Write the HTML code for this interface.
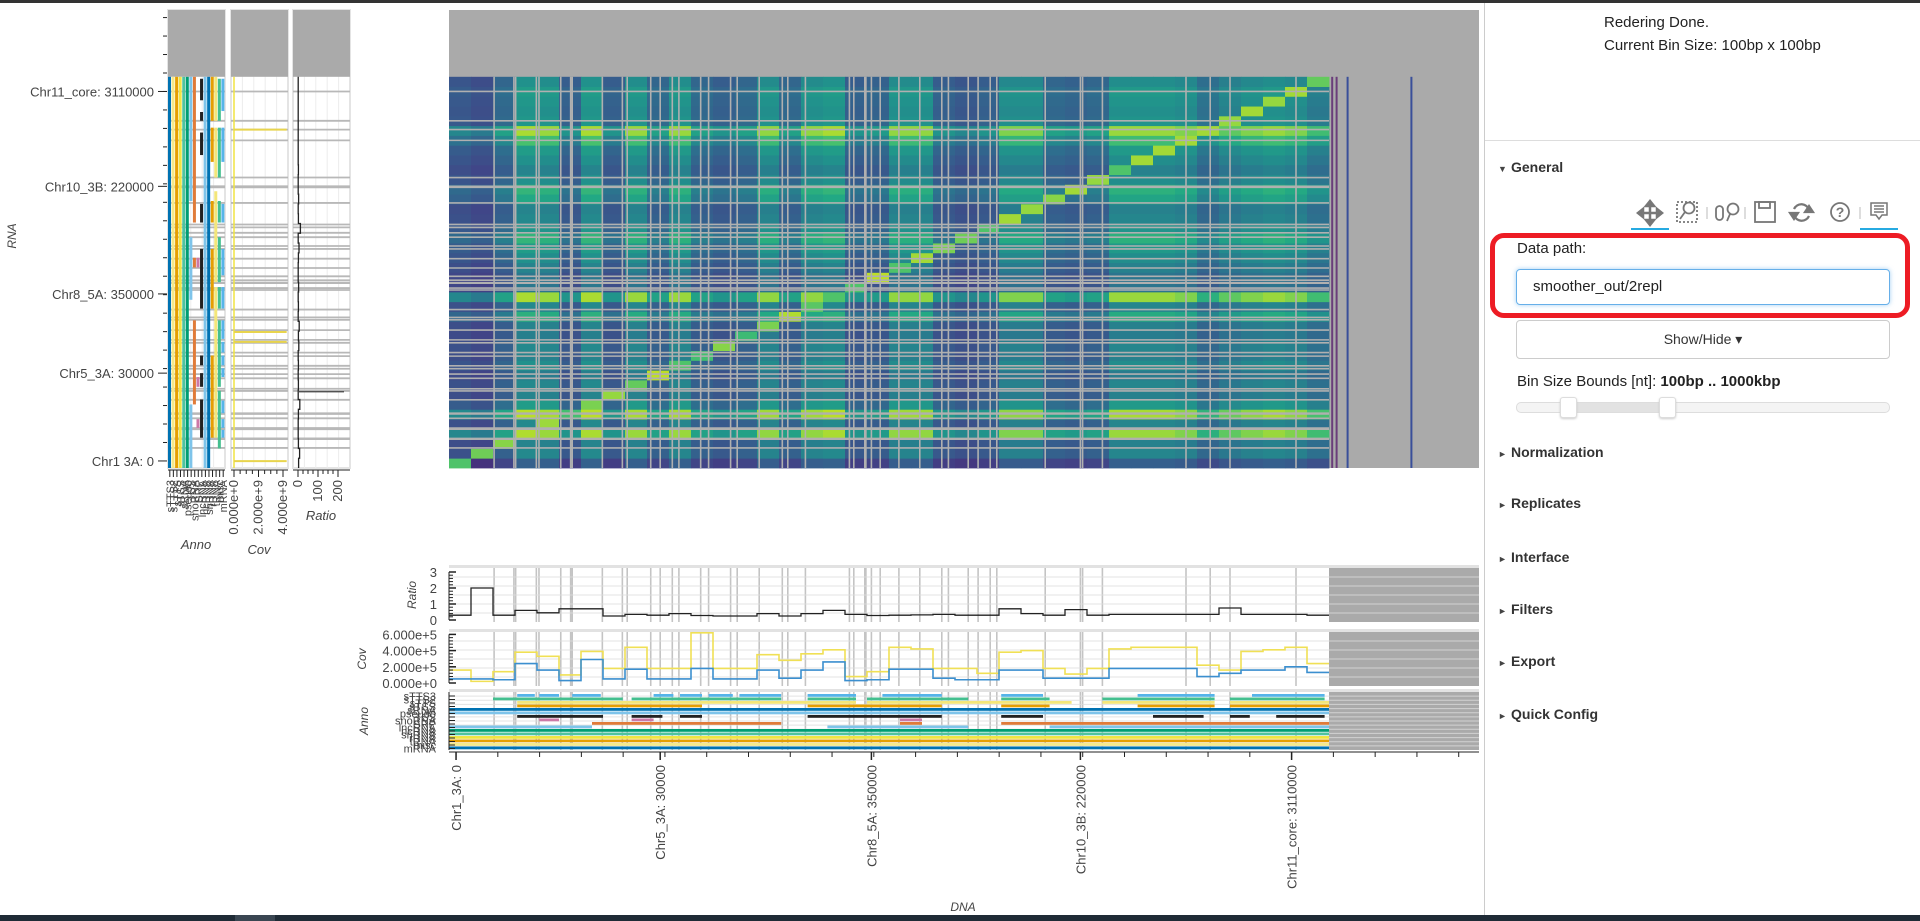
<!DOCTYPE html>
<html><head><meta charset="utf-8">
<style>
body{margin:0;width:1920px;height:921px;overflow:hidden;background:#fff;font-family:"Liberation Sans",sans-serif;position:relative}
#chart{position:absolute;left:0;top:0}
.rp{position:absolute;color:#222}
.sec{position:absolute;left:1498px;font-weight:bold;font-size:14px;color:#333}
.sec span{font-size:9px;display:inline-block;width:13px;color:#444}
</style></head><body>
<div style="position:absolute;left:0;top:0;width:1920px;height:3px;background:#333"></div>
<svg id="chart" width="1920" height="921"></svg>
<div style="position:absolute;left:0;top:915px;width:1920px;height:6px;background:#1f2b36"></div>
<div style="position:absolute;left:235px;top:915px;width:40px;height:6px;background:#3a4652"></div>

<div style="position:absolute;left:1484px;top:3px;width:436px;height:912px;border-left:1px solid #ccc;background:#fff"></div>
<div class="rp" style="left:1604px;top:11px;font-size:15px;line-height:23px">Redering Done.<br>Current Bin Size: 100bp x 100bp</div>
<div style="position:absolute;left:1485px;top:140px;width:435px;height:1px;background:#ddd"></div>
<div class="sec" style="top:159px"><span>▼</span>General</div>
<svg style="position:absolute;left:1620px;top:195px" width="290" height="40">
 <g stroke="#777" stroke-width="2.5" fill="#777"><line x1="30" y1="9" x2="30" y2="27"/><line x1="21" y1="18" x2="39" y2="18"/><polygon points="30,6 26,11 34,11"/><polygon points="30,30 26,25 34,25"/><polygon points="18,18 23,14 23,22"/><polygon points="42,18 37,14 37,22"/></g>
 <g fill="none" stroke="#777" stroke-width="1.8"><rect x="57" y="7" width="20" height="20" stroke-dasharray="2,2"/><circle cx="69" cy="13" r="5.5"/><line x1="65" y1="17" x2="60" y2="24"/></g>
 <line x1="87" y1="12" x2="87" y2="24" stroke="#bbb"/>
 <g fill="none" stroke="#777" stroke-width="1.8"><rect x="96" y="11" width="7" height="14" rx="3.5"/><circle cx="113" cy="14" r="5.5"/><line x1="110" y1="19" x2="107" y2="26"/></g>
 <line x1="125" y1="12" x2="125" y2="24" stroke="#bbb"/>
 <g fill="none" stroke="#777" stroke-width="1.8"><rect x="135" y="7" width="20" height="20"/><rect x="139" y="7" width="11" height="6"/></g>
 <g fill="none" stroke="#777" stroke-width="2.2"><path d="M174 14 A8 8 0 0 1 189 15"/><path d="M189 21 A8 8 0 0 1 174 20"/><polygon points="189,11 193,17 185,17" fill="#777"/><polygon points="174,24 170,18 178,18" fill="#777"/></g>
 <g><circle cx="220" cy="17" r="9" fill="none" stroke="#777" stroke-width="1.8"/><text x="220" y="22" font-size="14" font-weight="bold" text-anchor="middle" fill="#777">?</text></g>
 <line x1="240" y1="12" x2="240" y2="24" stroke="#bbb"/>
 <g fill="none" stroke="#777" stroke-width="1.5"><path d="M251 8 h16 v12 h-5 l-3 4 l-3 -4 h-5 z"/><line x1="254" y1="11" x2="264" y2="11"/><line x1="254" y1="14" x2="264" y2="14"/><line x1="254" y1="17" x2="264" y2="17"/></g>
 <rect x="11" y="33" width="38" height="2" fill="#26aae1"/><rect x="240" y="33" width="38" height="2" fill="#26aae1"/>
</svg>
<div style="position:absolute;left:1490px;top:233px;width:410px;height:75px;border:5px solid #ed1c24;border-radius:14px"></div>
<div class="rp" style="left:1517px;top:240px;font-size:15px">Data path:</div>
<div style="position:absolute;left:1516px;top:269px;width:356px;height:34px;border:1px solid #66afe9;border-radius:4px;box-shadow:0 0 5px rgba(102,175,233,.6);font-size:15px;line-height:34px;padding-left:16px;color:#222">smoother_out/2repl</div>
<div style="position:absolute;left:1516px;top:320px;width:372px;height:37px;border:1px solid #ccc;border-radius:4px;font-size:14px;line-height:37px;text-align:center;color:#333">Show/Hide ▾</div>
<div class="rp" style="left:1517px;top:373px;font-size:15px">Bin Size Bounds [nt]: <b>100bp .. 1000kbp</b></div>
<div style="position:absolute;left:1516px;top:402px;width:372px;height:9px;border:1px solid #ddd;border-radius:5px;background:#f4f4f4"></div>
<div style="position:absolute;left:1568px;top:403px;width:98px;height:9px;background:#e2e2e2"></div>
<div style="position:absolute;left:1560px;top:397px;width:15px;height:19px;border:1px solid #ddd;border-radius:3px;background:#fff;box-shadow:0 1px 2px #ccc"></div>
<div style="position:absolute;left:1659px;top:397px;width:15px;height:19px;border:1px solid #ddd;border-radius:3px;background:#fff;box-shadow:0 1px 2px #ccc"></div>
<div class="sec" style="top:444px"><span>►</span>Normalization</div>
<div class="sec" style="top:495px"><span>►</span>Replicates</div>
<div class="sec" style="top:549px"><span>►</span>Interface</div>
<div class="sec" style="top:601px"><span>►</span>Filters</div>
<div class="sec" style="top:653px"><span>►</span>Export</div>
<div class="sec" style="top:706px"><span>►</span>Quick Config</div>

<script>
// ---------------- data ----------------
const colBias = [0.55,0.5,0.65,0.9,0.88,0.6,0.9,0.6,0.88,0.65,0.88,0.65,0.6,0.65,0.87,0.65,0.87,0.9,0.6,0.62,0.87,0.87,0.6,0.55,0.6,0.85,0.85,0.65,0.62,0.65,0.88,0.88,0.88,0.85,0.7,0.8,0.85,0.88,0.85,0.75];
const rowBias = [0.45,0.62,0.6,1.0,0.62,1.02,0.7,0.6,0.62,0.58,0.65,0.6,0.62,0.58,0.6,0.78,0.62,1.0,0.55,0.55,0.6,0.65,0.7,0.8,0.68,0.62,0.6,0.75,0.8,0.65,0.6,0.65,0.7,0.85,1.0,0.68,0.66,0.68,0.7,0.65];
const diagVals = [0.72,0.78,0.82,0.88,0.85,0.7,0.8,0.84,0.76,0.9,0.72,0.7,0.82,0.68,0.8,0.88,0.74,0.72,0.72,0.9,0.72,0.86,0.8,0.78,0.72,0.86,0.84,0.82,0.86,0.84,0.72,0.86,0.86,0.86,0.86,0.84,0.86,0.84,0.86,0.76];
const filterPos = [2.05,2.95,3.03,3.97,4.09,5.08,5.53,5.6,6.97,7.88,8.1,9.17,9.6,10.15,10.45,11.44,11.8,12.8,13.1,14.1,15.15,15.4,16.2,18.2,18.4,18.9,18.95,19.2,19.6,20.45,21.4,22.4,22.7,23.6,24.05,24.6,24.9,27.1,28.7,28.8,29.7,33.5,34.6,35.5,38.5];
const extraCols = [40.1,40.3,40.8,43.7];
const ratioDna = [0.3,2.0,0.3,0.6,0.45,0.7,0.7,0.25,0.35,0.3,0.4,0.28,0.25,0.25,0.4,0.25,0.4,0.6,0.35,0.28,0.3,0.32,0.35,0.3,0.3,0.7,0.4,0.3,0.65,0.3,0.35,0.35,0.35,0.35,0.35,0.75,0.35,0.35,0.35,0.3];
const covYellow = [1.6,0.2,1.4,3.8,3.3,1.0,3.9,1.8,4.4,1.8,1.8,6.2,1.8,1.8,3.5,2.8,3.6,4.1,0.8,1.4,4.4,4.2,1.8,1.8,1.2,3.8,4.0,1.8,1.1,1.8,4.2,4.4,4.4,4.4,2.2,1.6,3.9,4.1,4.4,2.4];
const covBlue = [0.5,0.5,0.4,2.4,1.6,0.3,2.9,0.5,1.7,0.5,0.5,1.8,0.5,0.5,1.6,0.6,1.6,2.6,0.3,0.4,1.7,1.7,0.6,0.4,0.4,1.6,1.6,0.6,0.6,0.6,1.8,1.8,1.8,1.8,0.8,1.2,1.6,1.6,2.0,1.3];
const ratioRna = [3,8,2,1,1,2,9,1,2,1,2,1,4,2,6,1,2,1,3,1,1,2,5,1,12,2,1,3,1,1,2,1,1,1,1,1,1,1,1,1];
const ratioRnaSpike = [[7.8,230]];
const covRnaSpikes = [0.7,12.9,13.9,34.6];
const annoNames = ["mRNA","misc","tRNA","rRNA","snRNA","ncRNA","lncRNA","SRP","snoRNA","TSS","pseudo","sRNA","sTSS","sTTS","sTTS2","sTTS3"];
const annoColors = ["#56b4e9","#44bf8f","#f3e67a","#e69f00","#0072b2","#7ec4ea","#222222","#cc79a7","#e07b39","#7ec4ea","#009e73","#4fc3a0","#f0e442","#e69f00","#f5e98a","#0072b2"];
const annoSpans = [
 [[3.1,3.9],[4.1,5],[5.6,6.9],[9.3,10.2],[10.5,11.5],[11.8,12.9],[13.2,15.1],[16.3,18.5],[19.7,22.4],[25.1,27],[31.3,34.8],[36.5,39.8]],
 [[2,7.9],[8.3,15.1],[16.3,18.5],[19,23.6],[25.1,27.3],[29.7,34.8],[35.5,39.8]],
 [[3.1,18.5],[19,28.3],[29.7,34.8],[35.5,40]],
 [[3.1,11.5],[16.3,22.4],[25.1,27.3],[31.3,34.8],[35.5,40]],
 [[0,40]],[[0,40]],
 [[3.1,7],[8.3,9.7],[10.5,11.5],[16.3,22.4],[25.1,27],[32,34.3],[35.5,36.4],[37.6,39.8]],
 [[4.1,5],[8.3,9.3],[20.5,21.5]],
 [[6.5,15.1],[20.5,21.5],[25.1,40]],
 [[0,6.5],[17.2,23.6],[27.3,40]],
 [[0,40]],[[0,40]],[[0,40]],[[0,40]],[[0,40]],[[0,40]]
];
const xTickPos = [0.32,9.6,19.2,28.7,38.3];
const yTickPos = [0.72,9.7,17.8,28.8,38.5];
const tickLabels = ["Chr1_3A: 0","Chr5_3A: 30000","Chr8_5A: 350000","Chr10_3B: 220000","Chr11_core: 3110000"];
const yTickLabels = ["Chr1  3A: 0","Chr5_3A: 30000","Chr8_5A: 350000","Chr10_3B: 220000","Chr11_core: 3110000"];
const ratioTicks = [0,1,2,3];
const covTicks = [0,2,4,6];
const covTickLabels = ["0.000e+0","2.000e+5","4.000e+5","6.000e+5"];
const covRnaTicks = [0,2,4];
const covRnaTickLabels = ["0.000e+0","2.000e+9","4.000e+9"];
const ratioRnaTicks = [0,100,200];

// ---------------- helpers ----------------
const NS="http://www.w3.org/2000/svg";
const svg=document.getElementById('chart');
function mk(tag,attrs,parent){const e=document.createElementNS(NS,tag);for(const k in attrs)e.setAttribute(k,attrs[k]);(parent||svg).appendChild(e);return e;}
const N=40, X0=449, BW=22, Y0=468, BH=9.78, XMAX=1479, YMIN=10;
const DX=d=>X0+d*BW;
const DY=d=>Y0-d*BH;
const vir=["#440154","#482475","#414487","#355f8d","#2a788e","#21918c","#22a884","#44bf70","#7ad151","#bddf26","#fde725"];
function hx(c){return [1,3,5].map(i=>parseInt(c.substr(i,2),16));}
function viridis(t){t=Math.max(0,Math.min(1,t));const p=t*10,i=Math.min(9,Math.floor(p)),f=p-i;const a=hx(vir[i]),b=hx(vir[i+1]);return "rgb("+a.map((v,k)=>Math.round(v+(b[k]-v)*f)).join(",")+")";}

// ---------------- heatmap ----------------
const hm=mk('g',{});  
let r=mk('rect',{x:X0,y:YMIN,width:XMAX-X0,height:Y0-YMIN,fill:'#aaaaaa'},hm);
 
for(let j=0;j<N;j++){for(let b=0;b<N;b++){
  const v = (j===b)? diagVals[j] : Math.pow(colBias[j]*rowBias[b],1.3);
  const c=mk('rect',{x:DX(j),y:DY(b+1),width:BW+0.4,height:BH+0.4,fill:viridis(v)},hm);
  
  
}}
extraCols.forEach((p,k)=>{const l=mk('rect',{x:DX(p),y:DY(N),width:2,height:N*BH,fill:k<2?'#6a3d7a':'#3a4f9a'},hm);
  });
filterPos.forEach(p=>{
 const a=mk('line',{x1:DX(p),x2:DX(p),y1:DY(N),y2:Y0,stroke:'#b0b0b0','stroke-width':1.6},hm);
  
 const b=mk('line',{x1:X0,x2:DX(N),y1:DY(p),y2:DY(p),stroke:'#b0b0b0','stroke-width':1.6},hm);
  
});

// ---------------- left (RNA) panels ----------------
function leftPanel(x0,x1,name){
 const g=mk('g',{});  
 const bg=mk('rect',{x:x0,y:YMIN,width:x1-x0,height:Y0-YMIN,fill:'#fff',stroke:'#e4e4e4','stroke-width':2},g);
  
 for(let k=1;k<5;k++){const l=mk('line',{x1:x0+(x1-x0)*k/5,x2:x0+(x1-x0)*k/5,y1:YMIN,y2:Y0,stroke:'#ececec'},g);
   }
 const gr=mk('rect',{x:x0,y:YMIN,width:x1-x0,height:DY(N)-YMIN,fill:'#aaaaaa'},g);
  
 filterPos.forEach(p=>{const l=mk('line',{x1:x0,x2:x1,y1:DY(p),y2:DY(p),stroke:'#b8b8b8','stroke-width':1.8},g);
   });
 return g;
}
const la=leftPanel(168,225,'anno-rna-panel');
annoSpans.forEach((spans,k)=>{const col=15-k; const x=168+col*3.56;
 spans.forEach(s=>{const e=mk('rect',{x:x,y:DY(s[1]),width:3,height:(s[1]-s[0])*BH,fill:annoColors[k]},la);
   });});
const lc=leftPanel(231,288,'cov-rna-panel');
const cx=v=>234+v*12.25;
let ln=mk('line',{x1:cx(0),x2:cx(0),y1:DY(N),y2:Y0,stroke:'#f0e442','stroke-width':1.5},lc);
 
covRnaSpikes.forEach(p=>{const e=mk('line',{x1:cx(0),x2:cx(4.3),y1:DY(p),y2:DY(p),stroke:'#e8d44d','stroke-width':2},lc);
  });
const lr=leftPanel(293,350,'ratio-rna-panel');
const rx=v=>298+v*0.2;
let d='';for(let b=0;b<N;b++){d+=(b?'L':'M')+rx(ratioRna[b])+' '+DY(b)+' L'+rx(ratioRna[b])+' '+DY(b+1)+' ';}
ln=mk('path',{d:d,fill:'none',stroke:'#222','stroke-width':1.3},lr);
 
ratioRnaSpike.forEach(s=>{const e=mk('line',{x1:rx(0),x2:rx(s[1]),y1:DY(s[0]),y2:DY(s[0]),stroke:'#444','stroke-width':1.2},lr);
  });

// left bottom axes
function hAxis(x0,x1,ticks,labels,fn,name){
 const g=mk('g',{});  
 mk('line',{x1:x0,x2:x1,y1:470,y2:470,stroke:'#222'},g);
 ticks.forEach((t,i)=>{const x=fn(t);mk('line',{x1:x,x2:x,y1:470,y2:477,stroke:'#222'},g);
  const tx=mk('text',{x:0,y:0,transform:`translate(${x+4},480) rotate(-90)`,'text-anchor':'end','font-size':13,fill:'#444'},g);
  tx.textContent=labels[i];  
  if(i<ticks.length-1)for(let m=1;m<4;m++){const xm=x+(fn(ticks[i+1])-x)*m/4;mk('line',{x1:xm,x2:xm,y1:470,y2:474,stroke:'#222'},g);}
 });
}
hAxis(231,288,covRnaTicks,covRnaTickLabels,cx,'cov-rna-x-axis');
hAxis(293,350,ratioRnaTicks,ratioRnaTicks.map(String),rx,'ratio-rna-x-axis');
{const g=mk('g',{});
 mk('line',{x1:168,x2:225,y1:470,y2:470,stroke:'#222'},g);
 annoNames.forEach((n,k)=>{const x=169.8+(15-k)*3.56;mk('line',{x1:x,x2:x,y1:470,y2:477,stroke:'#222'},g);
  const t=mk('text',{transform:`translate(${x+4},480) rotate(-90)`,'text-anchor':'end','font-size':11,fill:'#444'},g);t.textContent=n;});}
[['Anno',196,549],['Cov',259,554],['Ratio',321,520]].forEach(a=>{const t=mk('text',{x:a[1],y:a[2],'text-anchor':'middle','font-size':13,'font-style':'italic',fill:'#444'});
 t.textContent=a[0];  });

// RNA y axis
{const g=mk('g',{});
 yTickPos.forEach((p,i)=>{mk('line',{x1:158,x2:167,y1:DY(p),y2:DY(p),stroke:'#222'},g);
  const t=mk('text',{x:154,y:DY(p)+5,'text-anchor':'end','font-size':13,fill:'#444'},g);t.textContent=yTickLabels[i];
  });
 const step=(yTickPos[4]-yTickPos[0])/20;
 for(let p=yTickPos[0]+step;DY(p)>=13;p+=step){mk('line',{x1:163,x2:167,y1:DY(p),y2:DY(p),stroke:'#222'},g);}
 const t=mk('text',{transform:'translate(16,236) rotate(-90)','text-anchor':'middle','font-size':12,'font-style':'italic',fill:'#444'},g);t.textContent='RNA';
}

// ---------------- bottom (DNA) panels ----------------
function botPanel(y0,y1,name){
 const g=mk('g',{});  
 mk('rect',{x:X0,y:y0-3,width:XMAX-X0,height:3,fill:'#e2e2e2'},g);
 const bg=mk('rect',{x:X0,y:y0,width:XMAX-X0,height:y1-y0,fill:'#fff'},g);
  
 const gr=mk('rect',{x:DX(N),y:y0,width:XMAX-DX(N),height:y1-y0,fill:'#aaaaaa'},g);
  
 filterPos.forEach(p=>{const l=mk('line',{x1:DX(p),x2:DX(p),y1:y0,y2:y1,stroke:'#c4c4c4','stroke-width':1.6},g);
   });
 return g;
}
function hgrid(g,y0,y1,n){for(let k=1;k<n;k++){const y=y0+(y1-y0)*k/n;mk('line',{x1:X0,x2:XMAX,y1:y,y2:y,stroke:'rgba(220,220,220,0.8)'},g);}}
function yAxis(g,vals,labels,fn,minor){mk('line',{x1:X0,x2:X0,y1:fn(vals[vals.length-1]),y2:fn(vals[0]),stroke:'#222'},g);
 vals.forEach((v,i)=>{mk('line',{x1:X0,x2:X0+7,y1:fn(v),y2:fn(v),stroke:'#222','stroke-width':1.5},g);
  const t=mk('text',{x:X0-12,y:fn(v)+5,'text-anchor':'end','font-size':13,fill:'#444'},g);t.textContent=labels[i];
  
  if(i<vals.length-1)for(let m=1;m<minor;m++){const y=fn(v)+(fn(vals[i+1])-fn(v))*m/minor;mk('line',{x1:X0,x2:X0+4,y1:y,y2:y,stroke:'#222'},g);}});}
function stepPath(vals,fy){let d='';for(let b=0;b<N;b++){d+=(b?'L':'M')+DX(b)+' '+fy(vals[b])+' L'+DX(b+1)+' '+fy(vals[b])+' ';}return d;}

const br=botPanel(568,622,'ratio-dna-panel');
const ry=v=>620-v*16;
hgrid(br,568,622,6);
ln=mk('path',{d:stepPath(ratioDna,ry),fill:'none',stroke:'#222','stroke-width':1.3},br);
 
yAxis(br,ratioTicks,ratioTicks.map(String),ry,5);
const bc=botPanel(632,686,'cov-dna-panel');
const cy=v=>683-v*8.1;
hgrid(bc,632,686,6);
ln=mk('path',{d:stepPath(covYellow,cy),fill:'none',stroke:'#f0e055','stroke-width':1.6},bc);
 
ln=mk('path',{d:stepPath(covBlue,cy),fill:'none',stroke:'#3b8fcf','stroke-width':1.6},bc);
 
yAxis(bc,covTicks,covTickLabels,cy,5);
const ba=botPanel(692,750,'anno-dna-panel');
hgrid(ba,692,750,14);
annoSpans.forEach((spans,k)=>{const y=694+k*3.5;
 spans.forEach(s=>{const e=mk('rect',{x:DX(s[0]),y:y,width:(s[1]-s[0])*BW,height:2.8,fill:annoColors[k]},ba);
   });});
mk('line',{x1:X0,x2:X0,y1:692,y2:750,stroke:'#222'},ba);
annoNames.forEach((n,k)=>{const y=696+k*3.5;mk('line',{x1:X0,x2:X0+6,y1:y,y2:y,stroke:'#222'},ba);
 const t=mk('text',{x:436,y:y+4,'text-anchor':'end','font-size':11,fill:'#444'},ba);t.textContent=annoNames[15-k];});
[['Ratio',416,595],['Cov',366,659],['Anno',368,721]].forEach(a=>{const t=mk('text',{transform:`translate(${a[1]},${a[2]}) rotate(-90)`,'text-anchor':'middle','font-size':12,'font-style':'italic',fill:'#444'});
 t.textContent=a[0];  });

// DNA x axis
{const g=mk('g',{});
 mk('line',{x1:X0,x2:XMAX,y1:752,y2:752,stroke:'#222'},g);
 xTickPos.forEach((p,i)=>{mk('line',{x1:DX(p),x2:DX(p),y1:752,y2:760,stroke:'#222','stroke-width':1.5},g);
  const t=mk('text',{transform:`translate(${DX(p)+5},765) rotate(-90)`,'text-anchor':'end','font-size':13,fill:'#444'},g);t.textContent=tickLabels[i];
  });
 const step=(xTickPos[4]-xTickPos[0])/20;
 for(let p=xTickPos[0];DX(p)<=XMAX;p+=step){mk('line',{x1:DX(p),x2:DX(p),y1:752,y2:757,stroke:'#222'},g);}
 const t=mk('text',{x:963,y:911,'text-anchor':'middle','font-size':12,'font-style':'italic',fill:'#444'},g);t.textContent='DNA';
}
</script>
</body></html>
